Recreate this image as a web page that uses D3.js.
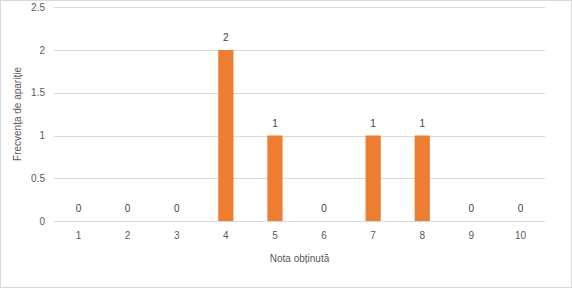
<!DOCTYPE html>
<html><head><meta charset="utf-8">
<script src="https://cdn.jsdelivr.net/npm/d3@7"></script>
<style>html,body{margin:0;padding:0;background:#fff;}svg{display:block;font-family:"Liberation Sans",Arial,sans-serif;}</style>
</head><body>
<script>
const categories = ["1","2","3","4","5","6","7","8","9","10"];
const values = [0,0,0,2,1,0,1,1,0,0];
const yTicks = [0,0.5,1,1.5,2,2.5];
const xTitle = "Nota obținută";
const yTitle = "Frecvența de apariție";

const W = 572, H = 288;
const svg = d3.select("body").append("svg").attr("width", W).attr("height", H);
svg.append("rect").attr("x",0.5).attr("y",0.5).attr("width",W-1).attr("height",H-1)
  .attr("fill","#fff").attr("stroke","#d9d9d9");

const x = d3.scaleBand().domain(categories).range([54,545]).paddingInner(0.69).paddingOuter(0.345);
const y = d3.scaleLinear().domain([0,2.5]).range([221,7.25]);

const g = svg.append("g");
g.selectAll("line.grid").data(yTicks).join("line")
  .attr("x1",54).attr("x2",545)
  .attr("y1",d=>Math.round(y(d))+0.5).attr("y2",d=>Math.round(y(d))+0.5)
  .attr("stroke","#d9d9d9").attr("stroke-width",1);

const yAxis = d3.axisLeft(y).tickValues(yTicks).tickSize(0).tickPadding(0).tickFormat(d3.format("~g"));
const ya = svg.append("g").attr("transform","translate(45,0)").call(yAxis);
ya.select(".domain").remove();
ya.selectAll("text").attr("fill","#595959").attr("font-size",10).attr("font-family","Liberation Sans, Arial, sans-serif");

const xAxis = d3.axisBottom(x).tickSize(0).tickPadding(0);
const xa = svg.append("g").attr("transform","translate(0,232)").call(xAxis);
xa.select(".domain").remove();
xa.selectAll("text").attr("fill","#595959").attr("font-size",10).attr("font-family","Liberation Sans, Arial, sans-serif");

g.selectAll("rect.bar").data(values).join("rect")
  .attr("x",(d,i)=>x(categories[i])).attr("width",x.bandwidth())
  .attr("y",d=>y(d)).attr("height",d=>y(0)-y(d))
  .attr("fill","#ED7D31");

g.selectAll("text.lbl").data(values).join("text")
  .attr("x",(d,i)=>x(categories[i])+x.bandwidth()/2)
  .attr("y",d=>y(d)-9)
  .attr("text-anchor","middle").attr("font-size",10).attr("fill","#404040")
  .text(d=>d);

svg.append("text").attr("x",(54+545)/2).attr("y",262).attr("text-anchor","middle")
  .attr("font-size",10).attr("fill","#595959").text(xTitle);
svg.append("text").attr("transform","translate(21,114) rotate(-90)").attr("text-anchor","middle")
  .attr("font-size",10).attr("fill","#595959").text(yTitle);
</script>
</body></html>
